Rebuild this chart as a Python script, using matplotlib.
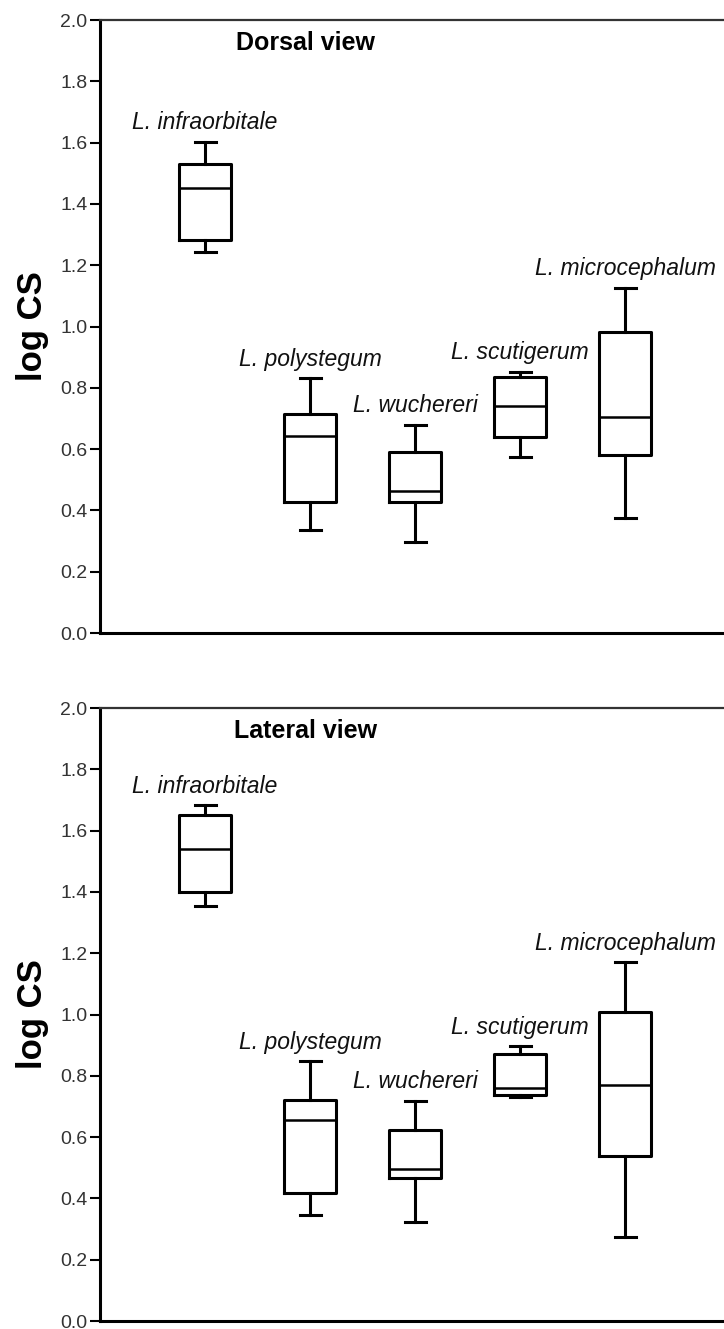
import numpy as np
import matplotlib.pyplot as plt

species = ['L. infraorbitale', 'L. polystegum', 'L. wuchereri',
           'L. scutigerum', 'L. microcephalum']

# dorsal view: whisker low, q1, median, q3, whisker high
dorsal_wlo = [1.243, 0.336, 0.297, 0.574, 0.375]
dorsal_q1 = [1.282, 0.427, 0.427, 0.640, 0.581]
dorsal_med = [1.452, 0.643, 0.462, 0.741, 0.705]
dorsal_q3 = [1.530, 0.715, 0.590, 0.835, 0.982]
dorsal_whi = [1.603, 0.832, 0.679, 0.852, 1.126]

# lateral view
lateral_wlo = [1.354, 0.346, 0.323, 0.731, 0.274]
lateral_q1 = [1.400, 0.418, 0.467, 0.737, 0.538]
lateral_med = [1.540, 0.656, 0.496, 0.760, 0.770]
lateral_q3 = [1.651, 0.721, 0.623, 0.871, 1.008]
lateral_whi = [1.683, 0.848, 0.718, 0.897, 1.171]

yticks = [0.0, 0.2, 0.4, 0.6, 0.8, 1.0, 1.2, 1.4, 1.6, 1.8, 2.0]

plt.rcParams['font.family'] = ['Liberation Sans', 'DejaVu Sans']


def makeStats(wlo, q1, med, q3, whi):
    ''' Build bxp stats from read-off quantities '''
    stats = []
    for i in range(len(med)):
        stats.append({'whislo': wlo[i], 'q1': q1[i], 'med': med[i],
                      'q3': q3[i], 'whishi': whi[i], 'fliers': []})
    return stats


def drawPanel(ax, stats, title):
    pos = np.arange(1, len(stats) + 1)
    lw = 2.2
    ax.bxp(stats, positions=pos, widths=0.5, capwidths=0.2, showfliers=False,
           boxprops=dict(color='black', linewidth=lw),
           whiskerprops=dict(color='black', linewidth=lw),
           capprops=dict(color='black', linewidth=lw),
           medianprops=dict(color='black', linewidth=1.8))
    for i, s in enumerate(stats):
        ax.text(pos[i], s['whishi'] + 0.062, species[i], ha='center', va='center',
                fontsize=16.5, style='italic', color='#111111')
    ax.text(1.96, 1.925, title, ha='center', va='center', fontsize=18,
            fontweight='bold')
    ax.set_xlim(0, 6.01)
    ax.set_ylim(0, 2.0)
    ax.set_yticks(yticks)
    ax.set_yticklabels(['%.1f' % t for t in yticks], fontsize=14, color='#333333')
    ax.set_xticks([])
    ax.tick_params(axis='y', direction='out', length=7, width=1.5, pad=2)
    ax.set_ylabel('log CS', fontsize=25, fontweight='bold', labelpad=8)
    for side in ['left', 'bottom']:
        ax.spines[side].set_linewidth(2.2)
    ax.spines['top'].set_linewidth(1.6)
    ax.spines['top'].set_color('#333333')
    ax.spines['right'].set_visible(False)


fig = plt.figure(figsize=(7.24, 13.29), dpi=100)
ax1 = fig.add_axes([0.1381, 0.5237, 0.8719, 0.4612])
ax2 = fig.add_axes([0.1381, 0.0060, 0.8719, 0.4612])

drawPanel(ax1, makeStats(dorsal_wlo, dorsal_q1, dorsal_med, dorsal_q3, dorsal_whi),
          'Dorsal view')
drawPanel(ax2, makeStats(lateral_wlo, lateral_q1, lateral_med, lateral_q3, lateral_whi),
          'Lateral view')

fig.savefig('out.png', dpi=100)
